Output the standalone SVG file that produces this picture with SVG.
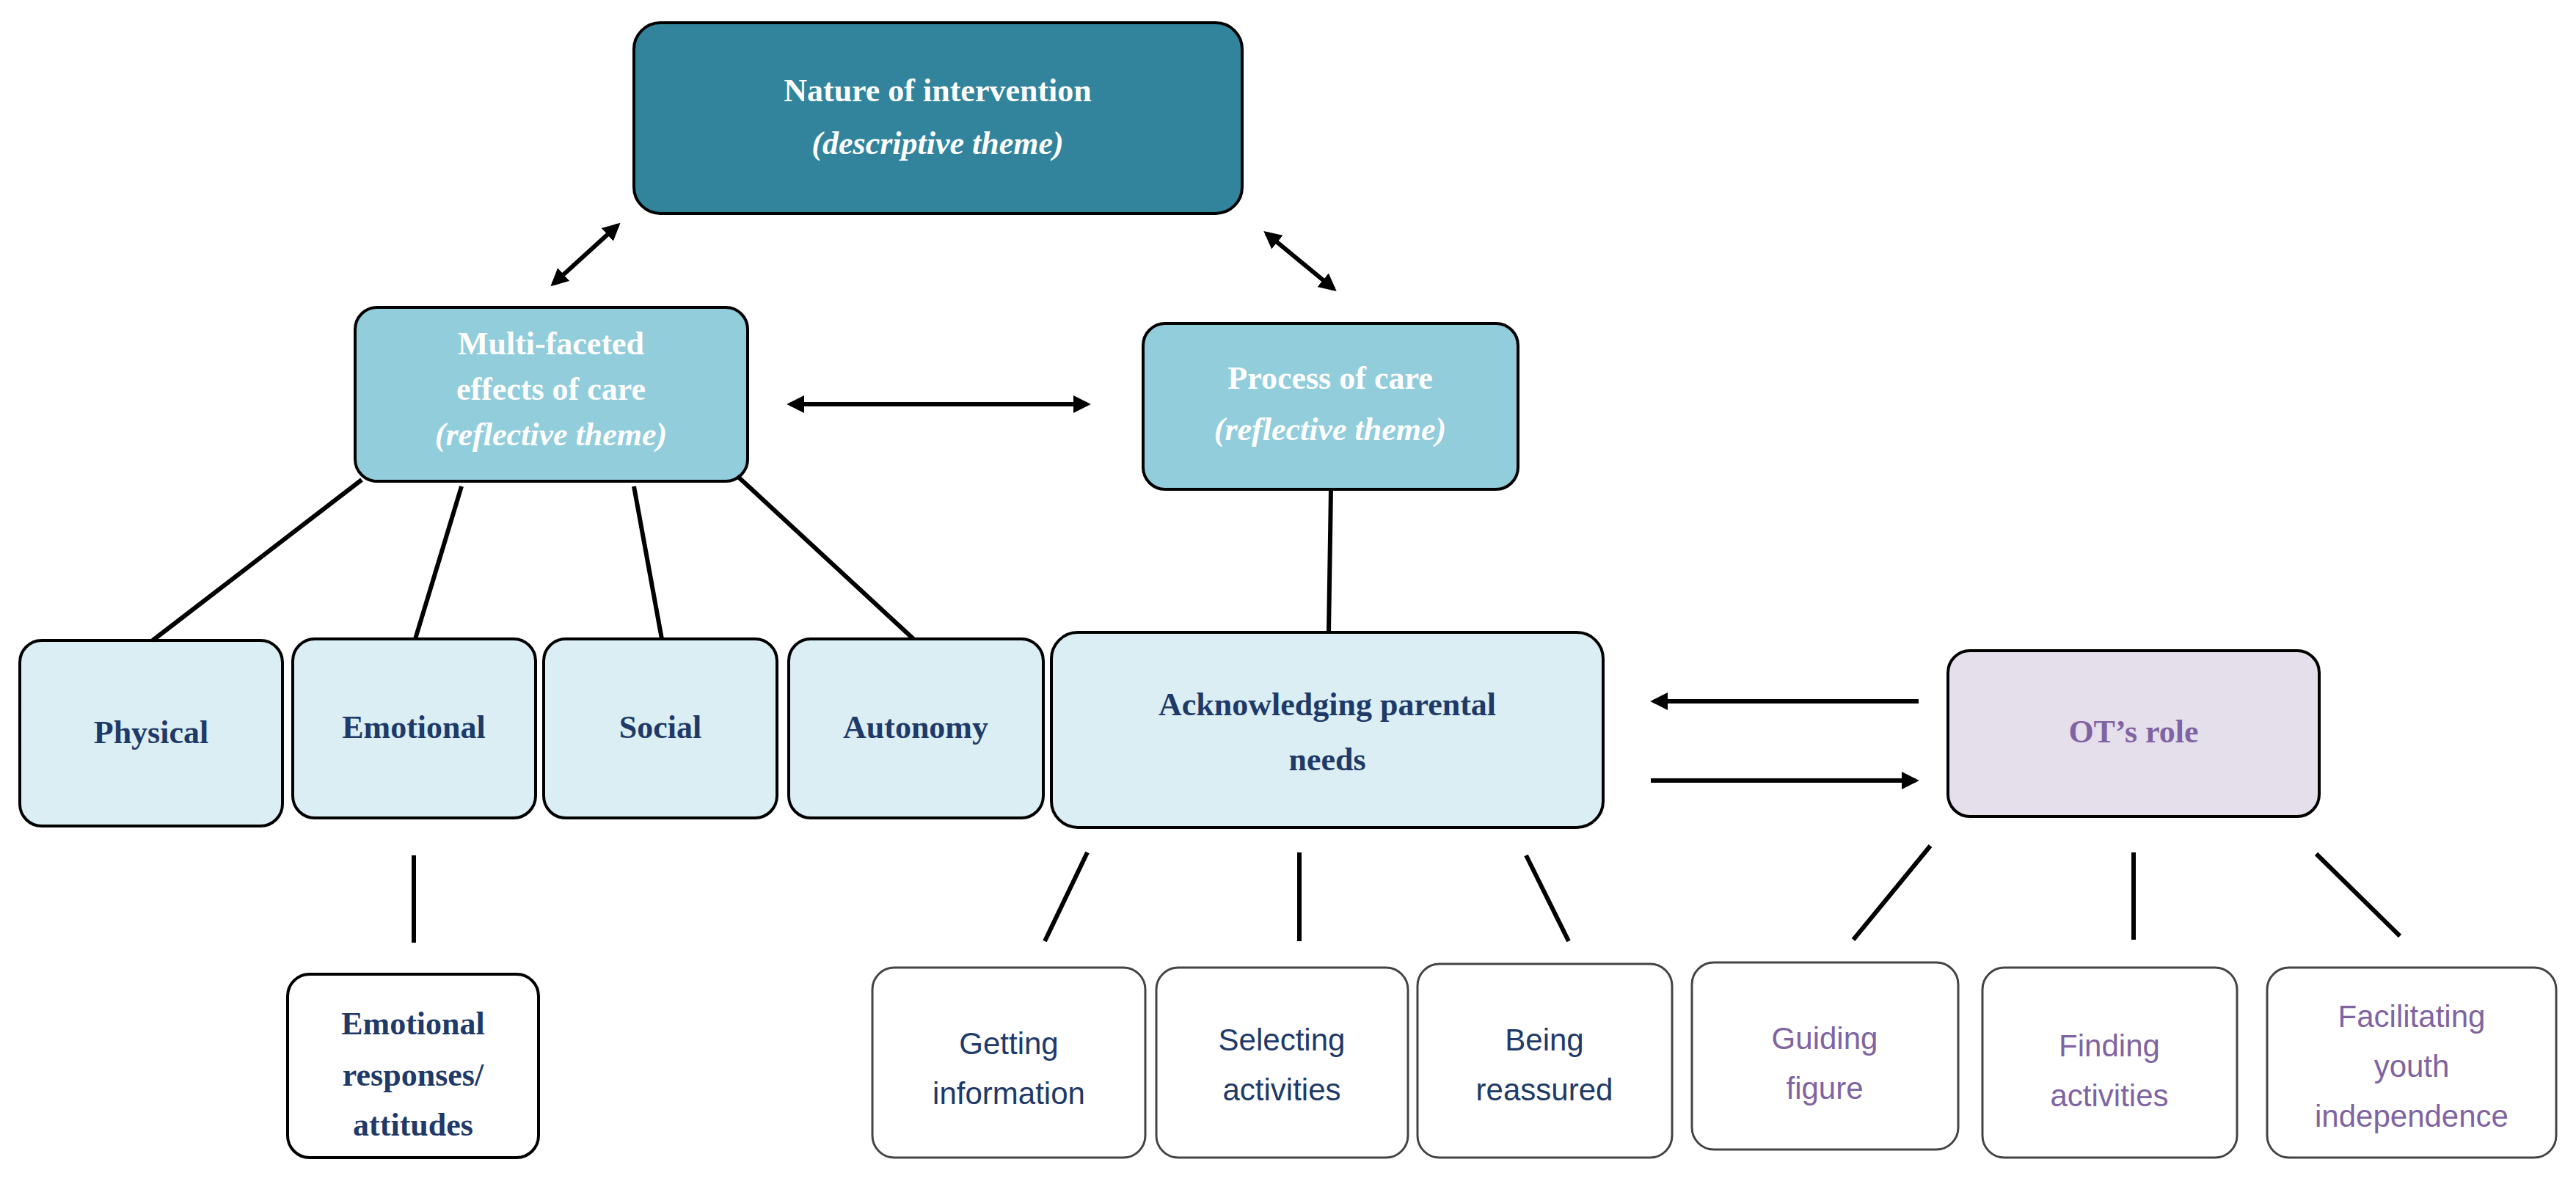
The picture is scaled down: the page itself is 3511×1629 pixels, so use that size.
<svg xmlns="http://www.w3.org/2000/svg" width="3511" height="1629" viewBox="0 0 3511 1629">
<defs>
<marker id="ah" viewBox="0 0 10 10" refX="8" refY="5" markerWidth="4" markerHeight="4" orient="auto-start-reverse"><path d="M0,0 L10,5 L0,10 z" fill="#000"/></marker>
<style>
.b{stroke:#000;stroke-width:4}
.t{font-family:"Liberation Serif",serif;font-weight:bold;font-size:44px;text-anchor:middle}
.w{fill:#fff}
.d{fill:#1F3A68}
.p{fill:#8064A2}
.n{font-family:"Liberation Sans",sans-serif;font-size:42px;text-anchor:middle}
.c line{stroke:#000;stroke-width:6}
</style>
</defs>
<rect width="3511" height="1629" fill="#fff"/>
<g id="nature"><rect class="b" x="864" y="31" width="829" height="260" rx="36" fill="#31849B"/><text class="t w" x="1278" y="138">Nature of intervention</text><text class="t w" x="1278" y="210" font-style="italic">(descriptive theme)</text></g>
<g id="multi"><rect class="b" x="484" y="419" width="535" height="237" rx="30" fill="#92CDDC"/><text class="t w" x="751" y="483">Multi-faceted</text><text class="t w" x="751" y="545">effects of care</text><text class="t w" x="751" y="607" font-style="italic">(reflective theme)</text></g>
<g id="process"><rect class="b" x="1558" y="441" width="511" height="226" rx="30" fill="#92CDDC"/><text class="t w" x="1813" y="530">Process of care</text><text class="t w" x="1813" y="600" font-style="italic">(reflective theme)</text></g>
<g id="physical"><rect class="b" x="27" y="873" width="358" height="253" rx="30" fill="#DAEEF3"/><text class="t d" x="206" y="1013">Physical</text></g>
<g id="emotional"><rect class="b" x="399" y="871" width="331" height="244" rx="30" fill="#DAEEF3"/><text class="t d" x="564" y="1006">Emotional</text></g>
<g id="social"><rect class="b" x="741" y="871" width="318" height="244" rx="30" fill="#DAEEF3"/><text class="t d" x="900" y="1006">Social</text></g>
<g id="autonomy"><rect class="b" x="1075" y="871" width="347" height="244" rx="30" fill="#DAEEF3"/><text class="t d" x="1248" y="1006">Autonomy</text></g>
<g id="ack"><rect class="b" x="1433" y="862" width="752" height="266" rx="36" fill="#DAEEF3"/><text class="t d" x="1809" y="975">Acknowledging parental</text><text class="t d" x="1809" y="1050">needs</text></g>
<g id="ot"><rect class="b" x="2655" y="887" width="506" height="226" rx="30" fill="#E5DFEC" stroke="#555"/><text class="t p" x="2908" y="1012">OT’s role</text></g>
<g id="emoresp"><rect class="b" x="392" y="1328" width="342" height="250" rx="30" fill="#fff"/><text class="t d" x="563" y="1410">Emotional</text><text class="t d" x="563" y="1480">responses/</text><text class="t d" x="563" y="1548">attitudes</text></g>
<g id="getting"><rect x="1189" y="1319" width="372" height="259" rx="30" fill="#fff" stroke="#444" stroke-width="3"/><text class="n d" x="1375" y="1437">Getting</text><text class="n d" x="1375" y="1505">information</text></g>
<g id="selecting"><rect x="1576" y="1319" width="343" height="259" rx="30" fill="#fff" stroke="#444" stroke-width="3"/><text class="n d" x="1747" y="1432">Selecting</text><text class="n d" x="1747" y="1500">activities</text></g>
<g id="being"><rect x="1932" y="1314" width="347" height="264" rx="30" fill="#fff" stroke="#444" stroke-width="3"/><text class="n d" x="2105" y="1432">Being</text><text class="n d" x="2105" y="1500">reassured</text></g>
<g id="guiding"><rect x="2306" y="1312" width="363" height="255" rx="30" fill="#fff" stroke="#444" stroke-width="3"/><text class="n p" x="2487" y="1430">Guiding</text><text class="n p" x="2487" y="1498">figure</text></g>
<g id="finding"><rect x="2702" y="1319" width="347" height="259" rx="30" fill="#fff" stroke="#444" stroke-width="3"/><text class="n p" x="2875" y="1440">Finding</text><text class="n p" x="2875" y="1508">activities</text></g>
<g id="facilitating"><rect x="3090" y="1319" width="394" height="259" rx="30" fill="#fff" stroke="#444" stroke-width="3"/><text class="n p" x="3287" y="1400">Facilitating</text><text class="n p" x="3287" y="1468">youth</text><text class="n p" x="3287" y="1536">independence</text></g>
<g id="connectors" class="c">
<line x1="754" y1="387" x2="842" y2="307" marker-start="url(#ah)" marker-end="url(#ah)"/>
<line x1="1726" y1="318" x2="1818" y2="394" marker-start="url(#ah)" marker-end="url(#ah)"/>
<line x1="1077" y1="551" x2="1482" y2="551" marker-start="url(#ah)" marker-end="url(#ah)"/>
<line x1="493" y1="654" x2="208" y2="873"/>
<line x1="629" y1="663" x2="566" y2="871"/>
<line x1="864" y1="663" x2="902" y2="871"/>
<line x1="1005" y1="649" x2="1245" y2="871"/>
<line x1="1814" y1="667" x2="1811" y2="862"/>
<line x1="2615" y1="956" x2="2254" y2="956" marker-end="url(#ah)"/>
<line x1="2250" y1="1064" x2="2611" y2="1064" marker-end="url(#ah)"/>
<line x1="564" y1="1166" x2="564" y2="1285"/>
<line x1="1482" y1="1162" x2="1424" y2="1283"/>
<line x1="1771" y1="1162" x2="1771" y2="1283"/>
<line x1="2080" y1="1166" x2="2138" y2="1283"/>
<line x1="2631" y1="1153" x2="2526" y2="1281"/>
<line x1="2908" y1="1162" x2="2908" y2="1281"/>
<line x1="3157" y1="1164" x2="3271" y2="1276"/>
</g>
</svg>
